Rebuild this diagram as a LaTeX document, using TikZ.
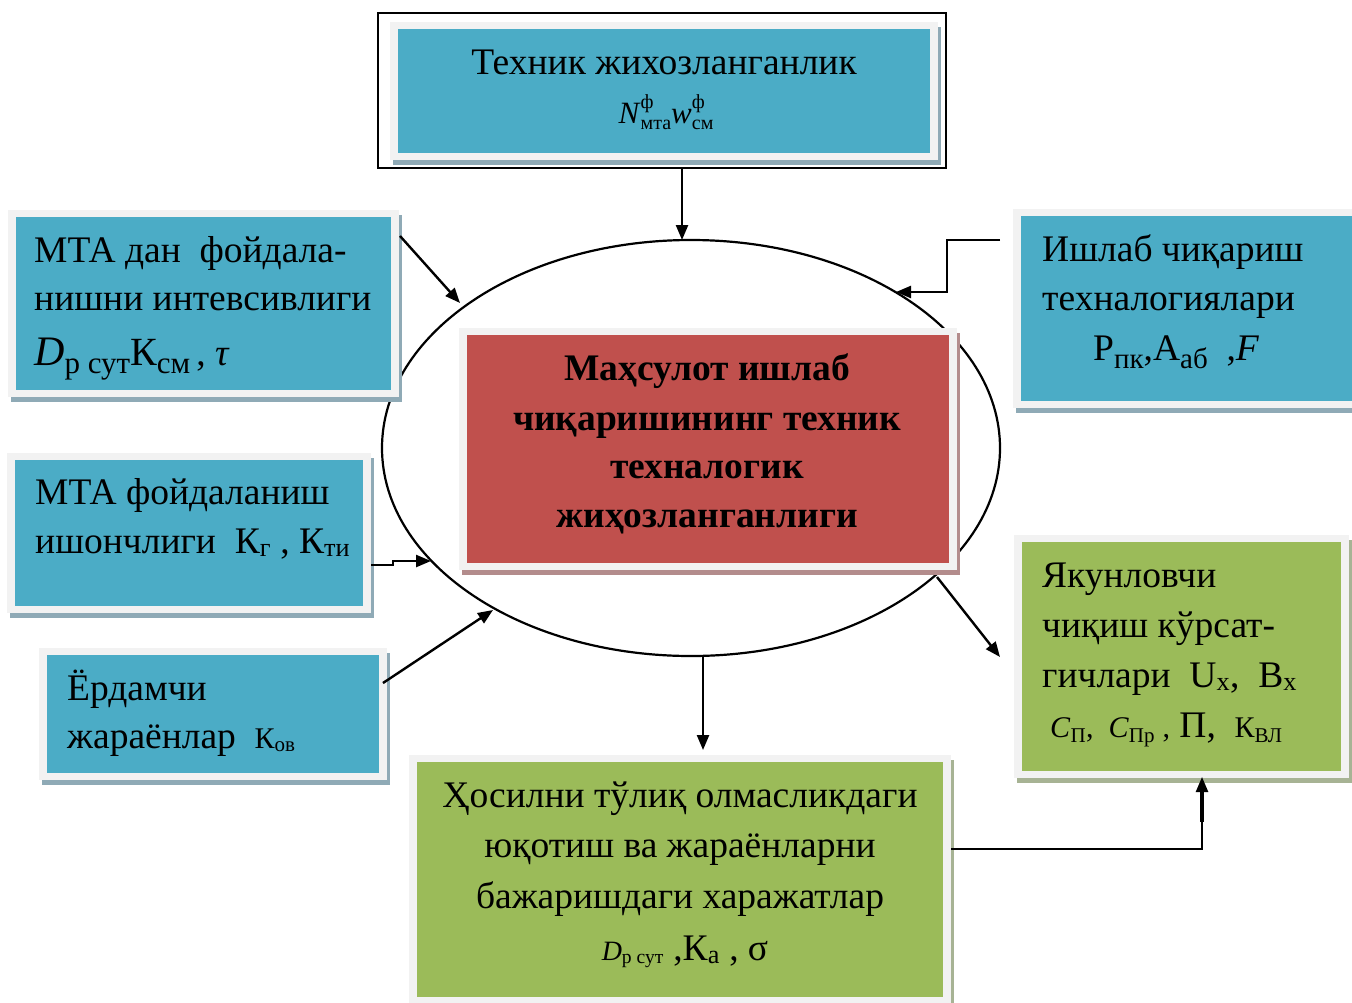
\documentclass[tikz,border=0pt]{standalone}
\usepackage{fontspec}
\setmainfont{Liberation Serif}
\usetikzlibrary{arrows.meta,shapes.geometric}
\definecolor{tealc}{HTML}{4BACC6}
\definecolor{redc}{HTML}{C0504D}
\definecolor{greenc}{HTML}{9BBB59}
\definecolor{framec}{HTML}{F2F2F2}
\definecolor{tealsh}{HTML}{8FAAB6}
\definecolor{redsh}{HTML}{B38C8C}
\definecolor{greensh}{HTML}{A7B394}
\tikzset{
  conn/.style={line width=2.4pt, -{Triangle[length=15pt,width=12pt]}},
  txt/.style={inner sep=0pt, anchor=base west, font=\fontsize{37.5}{48}\selectfont},
  ctxt/.style={inner sep=0pt, anchor=base, font=\fontsize{37.5}{48}\selectfont},
  btxt/.style={inner sep=0pt, anchor=base, font=\fontsize{37.5}{48}\selectfont\bfseries},
}
\newcommand\lsub[2]{\raisebox{-0.22em}{\fontsize{#1}{#1}\selectfont #2}}
% stacked superscript / subscript with clear gap
\newcommand\supsub[2]{{\fontsize{20}{20}\selectfont\rlap{\raisebox{15pt}{#1}}\raisebox{-6pt}{#2}}}
\newcommand\mkbox[7]{%
  \fill[#7] (#2+3,#3+5) rectangle (#4+3,#5+5);
  \fill[framec] (#2,#3) rectangle (#4,#5);
  \node[fill=#6, inner sep=0pt, minimum width={#4-#2-16}, minimum height={#5-#3-14}, anchor=north west] (#1) at (#2+8,#3+7) {};
}
\begin{document}
\begin{tikzpicture}[x=1pt,y=-1pt]
\useasboundingbox (0,0) rectangle (1352,1002);
% ellipse
\node[draw, ellipse, line width=2.2pt, minimum width=618, minimum height=416, inner sep=0pt] (ell) at (691,448) {};
% boxes
\mkbox{tb}{390}{22}{938}{160}{tealc}{tealsh}
\draw[line width=2.6pt] (378,13) rectangle (946,168);
\mkbox{lb1}{8}{210}{399}{397}{tealc}{tealsh}
\mkbox{lb2}{7}{453}{371}{613}{tealc}{tealsh}
\mkbox{lb3}{39}{648}{387}{780}{tealc}{tealsh}
\mkbox{rb1}{1013}{209}{1362}{408}{tealc}{tealsh}
\mkbox{rb2}{1014}{535}{1349}{778}{greenc}{greensh}
\mkbox{bb}{409}{755}{951}{1004}{greenc}{greensh}
\mkbox{cb}{459}{328}{957}{570}{redc}{redsh}
% connector endpoints
\coordinate (tbS) at (682,168);
\coordinate (eN) at (682,240);
\coordinate (l1E) at (400,236);
\coordinate (eNW) at (460,303);
\coordinate (l2E) at (371,565);
\coordinate (eW) at (431,561);
\coordinate (l3E) at (383,683);
\coordinate (eSW) at (493,610);
\coordinate (r1W) at (1000,240);
\coordinate (eNE) at (896,292);
\coordinate (eSE) at (937,577);
\coordinate (r2W) at (1000,657);
\coordinate (eS) at (703,656);
\coordinate (bbN) at (703,750);
\coordinate (bbE) at (951,849);
\coordinate (r2S) at (1202,777);
% connectors
\draw[conn] (tbS) -- (eN);
\draw[conn] (l1E) -- (eNW);
\draw[conn] (l2E) -- ++(22,0) -- ++(0,-4) -- (eW);
\draw[conn] (l3E) -- (eSW);
\draw[conn] (r1W) -- (947,240) -- (947,292) -- (eNE);
\draw[conn] (eSE) -- (r2W);
\draw[conn] (eS) -- (bbN);
\draw[conn] (bbE) -- (r2S |- bbE) -- (r2S);
\draw[line width=3.8pt] (1202,822) -- (1202,792);
% texts
\node[ctxt] (t1) at (664,74) {Техник жихозланганлик};
\node[ctxt, font=\fontsize{31}{36}\selectfont] (t2) at (666,123) {\textit{N}\supsub{ф}{мта}\textit{w}\supsub{ф}{см}};
\node[txt] (l1a) at (34,262) {МТА дан\ \ фойдала-};
\node[txt] (l1b) at (34,310) {нишни интевсивлиги};
\node[txt] (l1c) at (34,365) {{\fontsize{42}{48}\selectfont\textit{D}}\lsub{31}{р сут}{\fontsize{40}{48}\selectfont К}\lsub{31}{см}\,, \textit{τ}};
\node[txt] (l2a) at (35,504) {МТА фойдаланиш};
\node[txt] (l2b) at (35,553) {ишончлиги\ \ К\textsubscript{г} , К\textsubscript{ти}};
\node[txt] (l3a) at (67,700) {Ёрдамчи};
\node[txt] (l3b) at (67,748) {жараёнлар\ \ {\fontsize{30}{36}\selectfont К\textsubscript{ов}}};
\node[txt] (r1a) at (1042,261) {Ишлаб чиқариш};
\node[txt] (r1b) at (1042,310) {техналогиялари};
\node[txt] (r1c) at (1093,360) {Р\lsub{29}{пк},А\lsub{29}{аб}\ \ ,\textit{F}};
\node[txt] (r2a) at (1042,587) {Якунловчи};
\node[txt] (r2b) at (1042,637) {чиқиш кўрсат-};
\node[txt] (r2c) at (1042,687) {гичлари\ \ U\textsubscript{х},\ \ В\textsubscript{х}};
\node[txt] (r2d) at (1050,737) {{\fontsize{30}{36}\selectfont\textit{C}\textsubscript{П},\ \ \textit{C}\textsubscript{Пр} ,} П,\ \ {\fontsize{30}{36}\selectfont К\textsubscript{ВЛ}}};
\node[ctxt] (b1) at (680,807) {Ҳосилни тўлиқ олмасликдаги};
\node[ctxt] (b2) at (680,857) {юқотиш ва жараёнларни};
\node[ctxt] (b3) at (680,908) {бажаришдаги харажатлар};
\node[ctxt] (b4) at (685,960) {{\fontsize{28}{34}\selectfont\textit{D}\textsubscript{р сут}} ,К\textsubscript{а} , σ};
\node[btxt] (c1) at (707,380) {Маҳсулот ишлаб};
\node[btxt] (c2) at (707,430) {чиқаришининг техник};
\node[btxt] (c3) at (707,478) {техналогик};
\node[btxt] (c4) at (707,527) {жиҳозланганлиги};
\end{tikzpicture}
\end{document}
